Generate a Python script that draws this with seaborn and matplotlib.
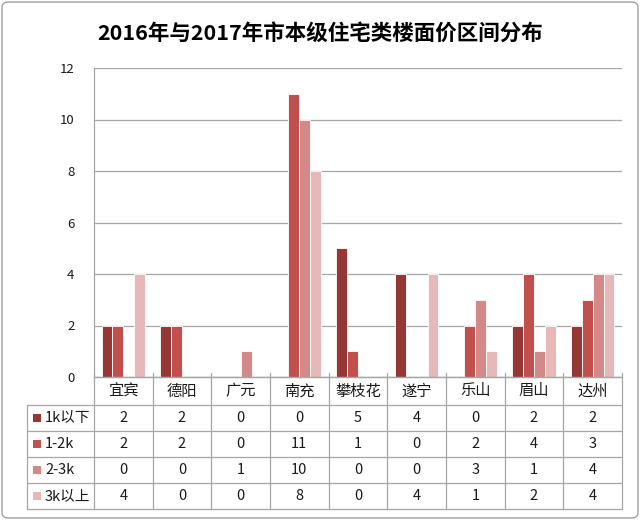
import numpy as np
import pandas as pd
import matplotlib
matplotlib.use("Agg")
import matplotlib.pyplot as plt
import seaborn as sns
from matplotlib.patches import Rectangle, FancyBboxPatch

cities = ["宜宾", "德阳", "广元", "南充", "攀枝花", "遂宁", "乐山", "眉山", "达州"]
series = ["1k以下", "1-2k", "2-3k", "3k以上"]
below_1k = [2, 2, 0, 0, 5, 4, 0, 2, 2]
k1_2 = [2, 2, 0, 11, 1, 0, 2, 4, 3]
k2_3 = [0, 0, 1, 10, 0, 0, 3, 1, 4]
above_3k = [4, 0, 0, 8, 0, 4, 1, 2, 4]
colors = ["#953735", "#C0504D", "#D38987", "#E6B9B8"]

sns.set_style("white")
plt.rcParams['font.family'] = ['Noto Sans CJK SC', 'DejaVu Sans']
plt.rcParams['text.color'] = "#1A1A1A"
plt.rcParams['ytick.color'] = "#1A1A1A"

values = [below_1k, k1_2, k2_3, above_3k]
df = pd.DataFrame({
    "城市": cities * len(series),
    "区间": np.repeat(series, len(cities)),
    "数量": sum(values, []),
})

W, H = 640, 520
fig = plt.figure(figsize=(W / 100, H / 100), dpi=100)
ax_left, ax_right, ax_top, ax_bot = 94, 622, 68, 377
ax = fig.add_axes([ax_left / W, 1 - ax_bot / H, (ax_right - ax_left) / W, (ax_bot - ax_top) / H])

sns.barplot(data=df, x="城市", y="数量", hue="区间", palette=colors, width=0.74,
            ax=ax, legend=False, edgecolor="white", linewidth=0.6, saturation=1)

grid_c = "#A6A6A6"
ax.set_ylim(0, 12)
ax.set_xlim(-0.5, len(cities) - 0.5)
ax.set_yticks(range(0, 13, 2))
ax.yaxis.grid(True, color=grid_c, linewidth=0.9)
ax.set_axisbelow(True)
ax.set_xticks([])
ax.set_xlabel("")
ax.set_ylabel("")
ax.tick_params(axis="y", length=0, pad=14, labelsize=9.5)
for s in ["top", "right"]:
    ax.spines[s].set_visible(False)
for s in ["left", "bottom"]:
    ax.spines[s].set_color(grid_c)
    ax.spines[s].set_linewidth(0.9)

# data table below the plot
axh = ax_bot - ax_top
def yf(py):
    return (ax_bot - py) / axh

row_edges = [377, 405, 431, 457, 483, 509]
x_lab = (27 - ax_left) / (ax_right - ax_left)
n = len(cities)
tkw = dict(transform=ax.transAxes, clip_on=False, color=grid_c, linewidth=0.9)
for i, py in enumerate(row_edges):
    x0 = 0 if i == 0 else x_lab
    ax.plot([x0, 1], [yf(py), yf(py)], **tkw)
for j in range(n + 1):
    ax.plot([j / n, j / n], [yf(373), yf(509)], **tkw)
ax.plot([x_lab, x_lab], [yf(405), yf(509)], **tkw)

hy = yf((row_edges[0] + row_edges[1]) / 2)
for j, c in enumerate(cities):
    ax.text((j + 0.5) / n, hy, c, transform=ax.transAxes, ha="center", va="center", fontsize=11)

for i, (name, vals) in enumerate(zip(series, values)):
    cy = yf((row_edges[i + 1] + row_edges[i + 2]) / 2)
    sq = 8 / (ax_right - ax_left)
    ax.add_patch(Rectangle((x_lab + 6 / (ax_right - ax_left), cy - 4 / axh), sq, 8 / axh,
                           transform=ax.transAxes, clip_on=False, facecolor=colors[i], edgecolor="none"))
    ax.text(x_lab + 18 / (ax_right - ax_left), cy, name, transform=ax.transAxes,
            ha="left", va="center", fontsize=10.5)
    for j, v in enumerate(vals):
        ax.text((j + 0.5) / n, cy, str(v), transform=ax.transAxes, ha="center", va="center", fontsize=10.5)

fig.text(0.5, 1 - 33 / H, "2016年与2017年市本级住宅类楼面价区间分布",
         ha="center", va="center", fontsize=15.5, fontweight="bold", color="black")

fig.patches.append(FancyBboxPatch((2 / W, 2 / H), 636 / W, 516 / H, boxstyle="round,pad=0,rounding_size=0.01",
                                  transform=fig.transFigure, facecolor="none", edgecolor="#A0A0A0", linewidth=1))

fig.savefig("out.png", dpi=100)
